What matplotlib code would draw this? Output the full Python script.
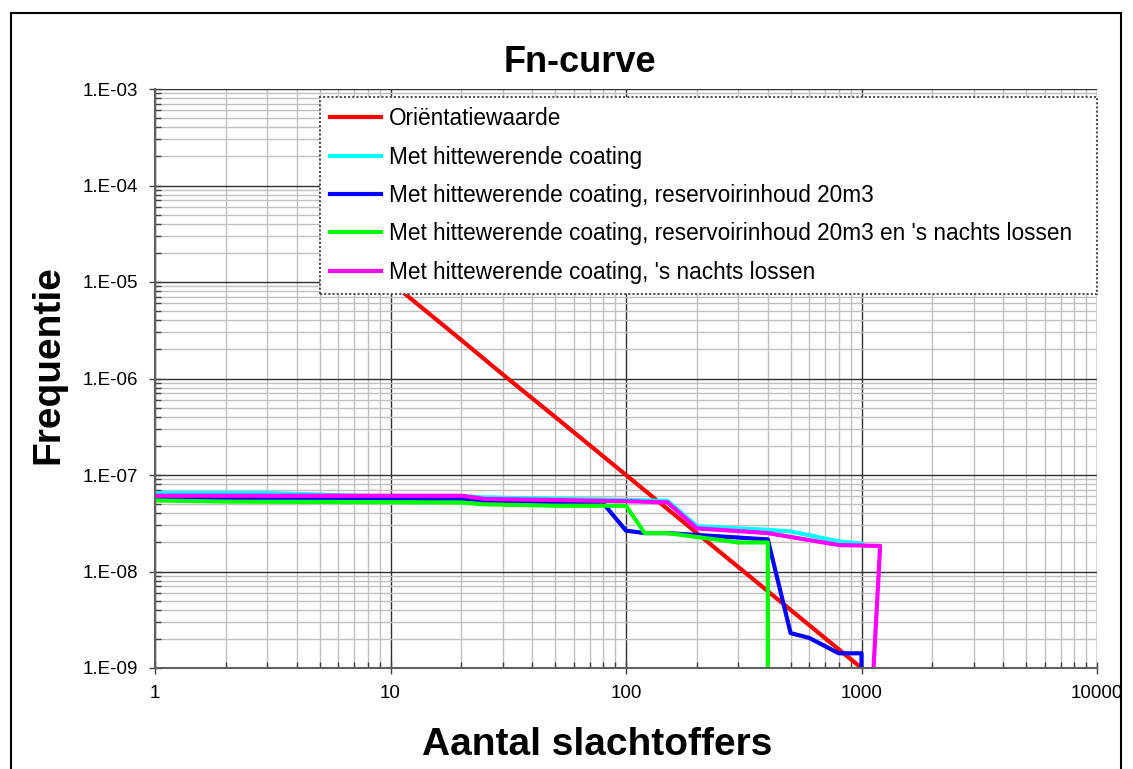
import numpy as np
import matplotlib.pyplot as plt
from matplotlib.ticker import LogLocator, FixedLocator, FuncFormatter
from matplotlib.patches import Rectangle

plt.rcParams['font.family'] = ['Liberation Sans', 'DejaVu Sans']

# Orientatiewaarde
redX = [10, 20, 30, 50, 100, 200, 500, 1000]
redY = [1e-5, 2.5e-6, 1.1e-6, 4e-7, 1e-7, 2.5e-8, 4e-9, 1e-9]

# Met hittewerende coating
cyanX = [1, 3, 8, 20, 25, 150, 200, 400, 500, 800, 1000]
cyanY = [6.5e-8, 6.5e-8, 6.05e-8, 6.05e-8, 5.85e-8, 5.4e-8, 2.95e-8, 2.7e-8, 2.6e-8, 2.05e-8, 1.95e-8]

# Met hittewerende coating, reservoirinhoud 20m3
blueX = [1, 20, 25, 80, 100, 120, 150, 400, 500, 600, 800, 1000, 1000]
blueY = [5.8e-8, 5.6e-8, 5.2e-8, 5.1e-8, 2.65e-8, 2.5e-8, 2.5e-8, 2.15e-8, 2.3e-9, 2.05e-9, 1.42e-9, 1.42e-9, 1e-10]

# Met hittewerende coating, reservoirinhoud 20m3 en 's nachts lossen
greenX = [1, 2, 20, 25, 50, 100, 120, 150, 300, 400, 400]
greenY = [5.45e-8, 5.3e-8, 5.2e-8, 4.97e-8, 4.81e-8, 4.81e-8, 2.5e-8, 2.5e-8, 2.0e-8, 2.0e-8, 1e-10]

# Met hittewerende coating, 's nachts lossen
magX = [1, 20, 25, 100, 150, 200, 400, 800, 1200, 1125]
magY = [6.1e-8, 6.1e-8, 5.65e-8, 5.35e-8, 5.2e-8, 2.8e-8, 2.5e-8, 1.88e-8, 1.84e-8, 1e-9]

labels = ['Oriëntatiewaarde',
          'Met hittewerende coating',
          'Met hittewerende coating, reservoirinhoud 20m3',
          "Met hittewerende coating, reservoirinhoud 20m3 en 's nachts lossen",
          "Met hittewerende coating, 's nachts lossen"]

fig = plt.figure(figsize=(11.33, 7.69), dpi=100)
fig.patches.append(Rectangle((11/1133, -0.05), 1110/1133, 1 - 13/769 + 0.05,
                             transform=fig.transFigure, fill=False,
                             edgecolor='black', linewidth=1.5))
ax = fig.add_axes([155/1133, 1 - 668/769, 942/1133, 579/769])

lw = 3
ax.plot(redX, redY, color='#ff0000', linewidth=lw, label=labels[0])
ax.plot(cyanX, cyanY, color='#00ffff', linewidth=lw, label=labels[1])
ax.plot(blueX, blueY, color='#0000ff', linewidth=lw, label=labels[2])
ax.plot(greenX, greenY, color='#00ff00', linewidth=lw, label=labels[3])
ax.plot(magX, magY, color='#ff00ff', linewidth=lw, label=labels[4])

ax.set_xscale('log')
ax.set_yscale('log')
ax.set_xlim(1, 10000)
ax.set_ylim(1e-9, 1e-3)

ax.xaxis.set_major_locator(FixedLocator([1, 10, 100, 1000, 10000]))
ax.yaxis.set_major_locator(FixedLocator([1e-9, 1e-8, 1e-7, 1e-6, 1e-5, 1e-4, 1e-3]))
ax.xaxis.set_minor_locator(LogLocator(base=10, subs=np.arange(2, 10), numticks=20))
ax.yaxis.set_minor_locator(LogLocator(base=10, subs=np.arange(2, 10), numticks=20))
ax.xaxis.set_major_formatter(FuncFormatter(lambda v, p: '%d' % round(v)))
ax.yaxis.set_major_formatter(FuncFormatter(lambda v, p: '1.E-%02d' % round(-np.log10(v))))
ax.xaxis.set_minor_formatter(FuncFormatter(lambda v, p: ''))
ax.yaxis.set_minor_formatter(FuncFormatter(lambda v, p: ''))

ax.grid(which='major', color='#303030', linewidth=1)
ax.grid(which='minor', color='#c0c0c0', linewidth=1)
ax.set_axisbelow(True)

ax.tick_params(which='major', direction='inout', length=8, width=1, labelsize=13.5, pad=8, colors='#404040', labelcolor='black')
ax.tick_params(which='minor', direction='in', length=4, width=1, colors='#404040')
for s in ['top', 'right']:
    ax.spines[s].set_visible(False)
for s in ['left', 'bottom']:
    ax.spines[s].set_color('#606060')
    ax.spines[s].set_linewidth(1.5)

fig.text(580/1133, 1 - 62/769, 'Fn-curve', fontsize=26, fontweight='bold', ha='center', va='center')
fig.text(597/1133, 1 - 745/769, 'Aantal slachtoffers', fontsize=28, fontweight='bold', ha='center', va='center')
fig.text(48/1133, 1 - 365/769, 'Frequentie', fontsize=28, fontweight='bold', ha='center', va='center', rotation=90)

legX0 = (320 - 155) / 942
leg = ax.legend(loc='upper left', bbox_to_anchor=(legX0, 0, 1 - legX0, 1 - 8/579),
                mode='expand', borderaxespad=0,
                fontsize=16.3, frameon=True, fancybox=False, framealpha=1,
                edgecolor='#505050', handlelength=2.25, handletextpad=0.35,
                labelspacing=0.68, borderpad=0.45)
leg.get_frame().set_linewidth(1.5)
leg.get_frame().set_linestyle((0, (1, 1)))

fig.savefig('out.png', dpi=100)
